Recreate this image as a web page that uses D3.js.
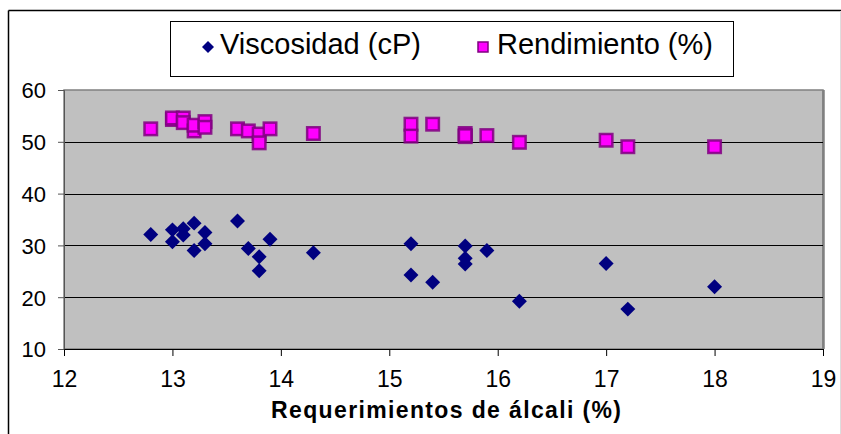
<!DOCTYPE html>
<html>
<head>
<meta charset="utf-8">
<script src="https://cdn.jsdelivr.net/npm/d3@7"></script>
<style>
body { margin: 0; background: #fff; }
svg text { font-family: Arial, 'Liberation Sans', sans-serif; fill: #000; }
</style>
</head>
<body>
<div id="chart"></div>
<script>
// observaciones: requerimiento de alcali, viscosidad, rendimiento
var alkali = [12.8, 13.0, 13.0, 13.1, 13.1, 13.2, 13.2, 13.3, 13.3, 13.6, 13.7, 13.8, 13.8, 13.9, 14.3,
	15.2, 15.2, 15.4, 15.7, 15.7, 15.7, 15.9, 16.2, 17.0, 17.2, 18.0]
var viscosity = [32.1, 33.0, 30.7, 33.2, 32.0, 34.3, 29.0, 32.5, 30.3, 34.7, 29.4, 27.8, 25.1, 31.2, 28.6,
	30.3, 24.3, 22.9, 29.9, 27.5, 26.4, 29.0, 19.2, 26.5, 17.7, 22.0]
var rendimiento = [52.5, 54.3, 54.6, 54.6, 53.7, 52.1, 53.2, 53.9, 52.8, 52.5, 52.1, 51.5, 49.8, 52.5, 51.6,
	53.4, 51.1, 53.4, 51.6, 51.0, 51.2, 51.2, 49.9, 50.3, 49.05, 49.05]

var xTicks = [12, 13, 14, 15, 16, 17, 18, 19]
var yTicks = [10, 20, 30, 40, 50, 60]
var seriesNames = ['Viscosidad (cP)', 'Rendimiento (%)']
var xTitle = 'Requerimientos de álcali (%)'

var W = 841, H = 434
var plot = { left: 64, top: 90, right: 823, bottom: 349 }

var svg = d3.select('#chart').append('svg')
	.attr('width', W)
	.attr('height', H)

// marco exterior
svg.append('line').attr('x1', 8.5).attr('y1', 10.5).attr('x2', W).attr('y2', 10.5)
	.style('stroke', '#000').style('stroke-width', 1.5)
svg.append('line').attr('x1', 8.5).attr('y1', 10.5).attr('x2', 8.5).attr('y2', H)
	.style('stroke', '#000').style('stroke-width', 1.5)
svg.append('line').attr('x1', 840.5).attr('y1', 11).attr('x2', 840.5).attr('y2', H)
	.style('stroke', '#ddd')

var x = d3.scaleLinear().domain([12, 19]).range([plot.left, plot.right])
var y = d3.scaleLinear().domain([10, 60]).range([plot.bottom, plot.top])

// area de trazado
svg.append('rect')
	.attr('x', plot.left).attr('y', plot.top)
	.attr('width', plot.right - plot.left).attr('height', plot.bottom - plot.top)
	.style('fill', '#c0c0c0')
	.style('stroke', '#808080')
	.style('stroke-width', 1.5)
svg.append('line')
	.attr('x1', plot.right + 0.5).attr('y1', plot.top).attr('x2', plot.right + 0.5).attr('y2', plot.bottom)
	.style('stroke', '#808080').style('stroke-width', 2.5)

// lineas de division
svg.append('g').selectAll('line')
	.data(yTicks.slice(1, -1))
	.enter().append('line')
	.attr('x1', plot.left).attr('x2', plot.right)
	.attr('y1', function(d) { return Math.round(y(d)) + 0.5 })
	.attr('y2', function(d) { return Math.round(y(d)) + 0.5 })
	.style('stroke', '#000')

var yAxis = d3.axisLeft(y).tickValues(yTicks).tickSize(6).tickPadding(12)
var gy = svg.append('g')
	.attr('transform', 'translate(' + plot.left + ',0)')
	.call(yAxis)
gy.select('.domain').style('stroke', '#555')
gy.selectAll('.tick line').style('stroke', '#555')
gy.selectAll('text').style('font-size', '22px').attr('dy', '0.36em')

var xAxis = d3.axisBottom(x).tickValues(xTicks).tickFormat(d3.format('d')).tickSize(7).tickPadding(15)
var gx = svg.append('g')
	.attr('transform', 'translate(0,' + plot.bottom + ')')
	.call(xAxis)
gx.select('.domain').style('stroke', '#000')
gx.selectAll('.tick line').style('stroke', '#000')
gx.selectAll('text').style('font-size', '23px')
gx.selectAll('.tick').filter(function(d) { return d === 12 }).select('line').remove()

svg.append('text')
	.attr('x', 446).attr('y', 418)
	.attr('text-anchor', 'middle')
	.attr('textLength', 350)
	.attr('lengthAdjust', 'spacing')
	.style('font-size', '23px')
	.style('font-weight', 'bold')
	.text(xTitle)

var diamond = d3.symbol().type(d3.symbolSquare).size(112)

// serie 1: viscosidad
svg.append('g').selectAll('path')
	.data(alkali)
	.enter().append('path')
	.attr('d', diamond)
	.attr('transform', function(d, i) {
		return 'translate(' + x(d) + ',' + y(viscosity[i]) + ') rotate(45)'
	})
	.style('fill', '#000080')

// serie 2: rendimiento
svg.append('g').selectAll('rect')
	.data(alkali)
	.enter().append('rect')
	.attr('x', function(d) { return x(d) - 6.25 })
	.attr('y', function(d, i) { return y(rendimiento[i]) - 6.25 })
	.attr('width', 12.5)
	.attr('height', 12.5)
	.style('fill', '#ff00ff')
	.style('stroke', '#800080')
	.style('stroke-opacity', 0.85)
	.style('stroke-width', 2.5)

// leyenda
var legend = svg.append('g')
legend.append('rect')
	.attr('x', 170.5).attr('y', 21.5)
	.attr('width', 563).attr('height', 55)
	.style('fill', '#fff')
	.style('stroke', '#000')
legend.append('path')
	.attr('d', d3.symbol().type(d3.symbolSquare).size(72))
	.attr('transform', 'translate(208,47) rotate(45)')
	.style('fill', '#000080')
legend.append('text')
	.attr('x', 220).attr('y', 54)
	.style('font-size', '29px')
	.text(seriesNames[0])
legend.append('rect')
	.attr('x', 478).attr('y', 42)
	.attr('width', 10).attr('height', 10)
	.style('fill', '#ff00ff')
	.style('stroke', '#800080')
	.style('stroke-width', 1.5)
legend.append('text')
	.attr('x', 497).attr('y', 54)
	.style('font-size', '29px')
	.text(seriesNames[1])
</script>
</body>
</html>
